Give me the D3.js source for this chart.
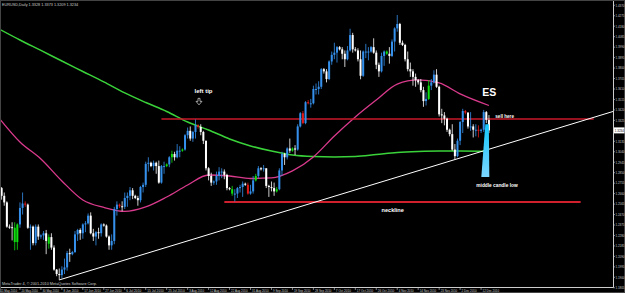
<!DOCTYPE html>
<html>
<head>
<meta charset="utf-8">
<script src="https://cdn.jsdelivr.net/npm/d3@7"></script>
<style>
  html, body { margin: 0; padding: 0; background: #000; overflow: hidden; }
  text { font-family: "Liberation Sans", Arial, sans-serif; }
</style>
</head>
<body>
<svg id="chart" width="625" height="293"></svg>
<script>
// EURUSD daily bars, 11 May 2010 .. 15 Dec 2010 (broker has Sunday bars)
const open = [
  1.2790,1.2710,1.2640,1.2580,1.2360,1.2355,1.2350,1.2220,
  1.2380,1.2530,1.2570,1.2560,1.2350,1.2360,1.2210,1.2360,
  1.2270,1.2280,1.2300,1.2205,1.2265,1.2170,1.1970,1.1930,
  1.1920,1.1970,1.1990,1.2120,1.2110,1.2130,1.2290,1.2330,
  1.2300,1.2380,1.2390,1.2460,1.2300,1.2270,1.2310,1.2300,
  1.2380,1.2370,1.2270,1.2190,1.2230,1.2520,1.2560,1.2545,
  1.2540,1.2620,1.2640,1.2690,1.2640,1.2620,1.2600,1.2720,
  1.2740,1.2930,1.2940,1.2910,1.2940,1.2910,1.2760,1.2910,
  1.2910,1.2925,1.2990,1.3020,1.2990,1.3050,1.3050,1.3060,
  1.3190,1.3230,1.3160,1.3220,1.3280,1.3265,1.3220,1.3140,
  1.2890,1.2820,1.2760,1.2770,1.2820,1.2860,1.2860,1.2830,
  1.2710,1.2700,1.2660,1.2660,1.2710,1.2720,1.2750,1.2740,
  1.2660,1.2680,1.2780,1.2820,1.2890,1.2885,1.2890,1.2730,
  1.2720,1.2710,1.2680,1.2700,1.2870,1.3020,1.2990,1.3070,
  1.3050,1.3070,1.3060,1.3270,1.3390,1.3300,1.3490,1.3480,
  1.3480,1.3610,1.3610,1.3630,1.3790,1.3770,1.3700,1.3860,
  1.3920,1.3940,1.3990,1.3970,1.3930,1.3880,1.3960,1.4100,
  1.3970,1.3960,1.3880,1.3730,1.3950,1.3950,1.3950,1.3990,
  1.3940,1.3830,1.3770,1.3910,1.3950,1.3930,1.3910,1.4040,
  1.4160,1.4200,1.4030,1.4010,1.3880,1.3790,1.3770,1.3720,
  1.3690,1.3670,1.3600,1.3500,1.3520,1.3640,1.3670,1.3740,
  1.3630,1.3380,1.3370,1.3340,1.3240,1.3200,1.3060,1.3000,
  1.3140,1.3310,1.3410,1.3395,1.3270,1.3270,1.3240,1.3240,
  1.3230,1.3240,1.3400,1.3328
];
const high = [
  1.2810,1.2720,1.2670,1.2590,1.2380,1.2400,1.2400,1.2390,
  1.2580,1.2670,1.2590,1.2570,1.2380,1.2370,1.2380,1.2380,
  1.2290,1.2320,1.2330,1.2290,1.2300,1.2190,1.1975,1.1980,
  1.2000,1.2070,1.2140,1.2160,1.2140,1.2320,1.2340,1.2345,
  1.2390,1.2410,1.2480,1.2490,1.2340,1.2320,1.2350,1.2390,
  1.2390,1.2380,1.2280,1.2290,1.2540,1.2590,1.2570,1.2590,
  1.2670,1.2670,1.2720,1.2710,1.2650,1.2640,1.2730,1.2760,
  1.2950,1.2990,1.2950,1.2960,1.2950,1.2960,1.2920,1.2950,
  1.2935,1.3000,1.3050,1.3040,1.3110,1.3090,1.3070,1.3200,
  1.3260,1.3270,1.3230,1.3333,1.3290,1.3290,1.3230,1.3140,
  1.2900,1.2850,1.2780,1.2860,1.2900,1.2890,1.2880,1.2840,
  1.2720,1.2730,1.2700,1.2720,1.2740,1.2770,1.2760,1.2760,
  1.2740,1.2820,1.2840,1.2910,1.2900,1.2920,1.2890,1.2740,
  1.2770,1.2760,1.2720,1.2890,1.3040,1.3030,1.3080,1.3160,
  1.3080,1.3100,1.3290,1.3400,1.3410,1.3500,1.3510,1.3520,
  1.3640,1.3660,1.3680,1.3800,1.3800,1.3790,1.3870,1.3950,
  1.4030,1.4000,1.4000,1.3990,1.3960,1.4000,1.4157,1.4120,
  1.3990,1.3980,1.3960,1.3960,1.4020,1.3990,1.4000,1.4070,
  1.3960,1.3850,1.3940,1.3960,1.3960,1.3990,1.4060,1.4170,
  1.4282,1.4210,1.4050,1.4020,1.3950,1.3850,1.3790,1.3750,
  1.3700,1.3700,1.3630,1.3580,1.3690,1.3700,1.3780,1.3790,
  1.3640,1.3430,1.3400,1.3350,1.3250,1.3290,1.3110,1.3160,
  1.3320,1.3430,1.3420,1.3400,1.3400,1.3290,1.3290,1.3280,
  1.3250,1.3420,1.3410,1.3373
];
const low = [
  1.2620,1.2605,1.2550,1.2350,1.2340,1.2235,1.2145,1.2150,
  1.2350,1.2470,1.2540,1.2340,1.2150,1.2190,1.2190,1.2240,
  1.2250,1.2240,1.2110,1.2160,1.2150,1.1960,1.1910,1.1876,
  1.1890,1.1930,1.1960,1.2040,1.2100,1.2120,1.2230,1.2240,
  1.2250,1.2310,1.2380,1.2290,1.2230,1.2190,1.2250,1.2270,
  1.2360,1.2260,1.2150,1.2150,1.2200,1.2460,1.2530,1.2500,
  1.2520,1.2540,1.2600,1.2610,1.2610,1.2550,1.2580,1.2670,
  1.2720,1.2860,1.2900,1.2870,1.2840,1.2750,1.2750,1.2840,
  1.2900,1.2900,1.2940,1.2960,1.2980,1.2990,1.3040,1.3050,
  1.3160,1.3140,1.3130,1.3160,1.3250,1.3190,1.3110,1.2870,
  1.2780,1.2730,1.2740,1.2740,1.2780,1.2800,1.2790,1.2690,
  1.2690,1.2640,1.2588,1.2620,1.2670,1.2630,1.2730,1.2650,
  1.2650,1.2660,1.2770,1.2800,1.2870,1.2860,1.2710,1.2630,
  1.2680,1.2640,1.2670,1.2690,1.2820,1.2920,1.2970,1.3030,
  1.3040,1.3010,1.3050,1.3260,1.3290,1.3290,1.3470,1.3440,
  1.3470,1.3560,1.3560,1.3610,1.3750,1.3670,1.3690,1.3830,
  1.3880,1.3850,1.3960,1.3880,1.3810,1.3870,1.3950,1.3940,
  1.3950,1.3860,1.3698,1.3720,1.3890,1.3870,1.3940,1.3930,
  1.3790,1.3720,1.3760,1.3820,1.3920,1.3840,1.3900,1.3950,
  1.4130,1.4010,1.4000,1.3860,1.3770,1.3720,1.3640,1.3630,
  1.3650,1.3580,1.3448,1.3460,1.3510,1.3600,1.3660,1.3620,
  1.3360,1.3300,1.3280,1.3220,1.3180,1.3050,1.2969,1.2990,
  1.3100,1.3210,1.3380,1.3250,1.3230,1.3170,1.3180,1.3170,
  1.3210,1.3220,1.3300,1.3209
];
const close = [
  1.2710,1.2640,1.2580,1.2360,1.2355,1.2350,1.2220,1.2380,
  1.2530,1.2570,1.2560,1.2350,1.2360,1.2210,1.2360,1.2270,
  1.2280,1.2300,1.2230,1.2265,1.2170,1.1970,1.1930,1.1920,
  1.1970,1.1990,1.2120,1.2110,1.2130,1.2290,1.2330,1.2300,
  1.2380,1.2390,1.2460,1.2300,1.2270,1.2310,1.2300,1.2380,
  1.2370,1.2270,1.2190,1.2230,1.2520,1.2560,1.2545,1.2540,
  1.2620,1.2640,1.2690,1.2640,1.2620,1.2600,1.2720,1.2740,
  1.2930,1.2940,1.2910,1.2940,1.2910,1.2760,1.2910,1.2910,
  1.2925,1.2990,1.3020,1.2990,1.3050,1.3050,1.3060,1.3190,
  1.3230,1.3160,1.3220,1.3280,1.3265,1.3220,1.3140,1.2890,
  1.2820,1.2760,1.2770,1.2820,1.2860,1.2860,1.2830,1.2710,
  1.2700,1.2660,1.2660,1.2710,1.2720,1.2750,1.2740,1.2660,
  1.2680,1.2780,1.2820,1.2890,1.2885,1.2890,1.2730,1.2720,
  1.2710,1.2680,1.2700,1.2870,1.3020,1.2990,1.3070,1.3050,
  1.3070,1.3060,1.3270,1.3390,1.3300,1.3490,1.3480,1.3480,
  1.3610,1.3610,1.3630,1.3790,1.3770,1.3700,1.3860,1.3920,
  1.3940,1.3990,1.3970,1.3930,1.3880,1.3960,1.4100,1.3970,
  1.3960,1.3880,1.3730,1.3950,1.3950,1.3950,1.3990,1.3940,
  1.3830,1.3770,1.3910,1.3950,1.3930,1.3910,1.4040,1.4160,
  1.4200,1.4030,1.4010,1.3880,1.3790,1.3770,1.3720,1.3690,
  1.3670,1.3600,1.3500,1.3520,1.3640,1.3670,1.3740,1.3630,
  1.3380,1.3370,1.3340,1.3240,1.3200,1.3060,1.3000,1.3140,
  1.3310,1.3410,1.3395,1.3270,1.3270,1.3240,1.3240,1.3230,
  1.3240,1.3400,1.3330,1.3234
];

// bars painted by the pattern indicator
const greenBars = [6, 7, 19, 64, 66, 70, 89, 98, 106, 112, 148, 164];
const redBars = [10, 46, 76, 95, 116, 118, 178, 183];

// moving averages (bar index, price)
const maIdx = [0, 8, 16, 24, 32, 40, 48, 56, 64, 72, 80, 88, 96, 104, 112, 120, 128, 136, 144, 152, 160, 168, 176, 187];
const maSlow = [1.4155, 1.4055, 1.3960, 1.3864, 1.3769, 1.3674, 1.3574, 1.3487, 1.3406, 1.3310, 1.3238, 1.3156,
                1.3093, 1.3047, 1.3011, 1.2997, 1.2993, 1.2997, 1.3015, 1.3034, 1.3043, 1.3047, 1.3047, 1.3043];
const maFast = [1.3347, 1.3129, 1.2974, 1.2775, 1.2602, 1.2534, 1.2498, 1.2539, 1.2629, 1.2738, 1.2829, 1.2820,
                1.2797, 1.2802, 1.2866, 1.2993, 1.3183, 1.3356, 1.3510, 1.3655, 1.3692, 1.3665, 1.3565, 1.3460];

// time axis labels (every 8th bar)
const timeTickIdx = [0, 8, 16, 24, 32, 40, 48, 56, 64, 72, 80, 88, 96, 104, 112, 120, 128, 136, 144, 152, 160, 168, 176, 184];
const timeTickLabels = ["11 May 2010", "20 May 2010", "30 May 2010", "8 Jun 2010", "17 Jun 2010", "27 Jun 2010",
  "6 Jul 2010", "15 Jul 2010", "25 Jul 2010", "3 Aug 2010", "12 Aug 2010", "22 Aug 2010", "31 Aug 2010",
  "9 Sep 2010", "19 Sep 2010", "28 Sep 2010", "7 Oct 2010", "17 Oct 2010", "26 Oct 2010", "4 Nov 2010",
  "14 Nov 2010", "23 Nov 2010", "2 Dec 2010", "12 Dec 2010"];

// price axis labels
const priceTicks = [1.4370, 1.4275, 1.4180, 1.4085, 1.3990, 1.3895, 1.3800, 1.3705, 1.3610, 1.3515, 1.3420,
  1.3325, 1.3230, 1.3135, 1.3040, 1.2945, 1.2850, 1.2755, 1.2660, 1.2565, 1.2470, 1.2375, 1.2280, 1.2185,
  1.2090, 1.1995, 1.1900, 1.1805];

// drawn objects
const leftTipLevel = 1.3333, leftTipFrom = 62, leftTipTo = 227;
const necklineLevel = 1.2588, necklineFrom = 86, necklineTo = 222;
const trendA = { i: 23, p: 1.1876 }, trendB = { i: 174, p: 1.2969 };
const esBar = 186;
const headerText = "EURUSD,Daily  1.3328 1.3373 1.3209 1.3234";

// layout
const W = 625, H = 293, plotR = 613, plotB = 287;
const svg = d3.select("#chart");

const x = d3.scaleLinear().domain([0, 234]).range([-1, -1 + 234 * 2.62]);
const y = d3.scaleLinear().domain([1.1812, 1.4418]).range([plotB, 0]);

svg.append("rect").attr("width", W).attr("height", H).attr("fill", "#000");

const bars = d3.range(open.length);
const plot = svg.append("g");

// Moving averages go behind the candles
const maLine = d3.line().x((d, i) => x(maIdx[i])).y(d => y(d)).curve(d3.curveMonotoneX);
plot.append("path").datum(maSlow).attr("d", maLine)
  .attr("fill", "none").attr("stroke", "#3ad23a").attr("stroke-width", 1.5);
plot.append("path").datum(maFast).attr("d", maLine)
  .attr("fill", "none").attr("stroke", "#d93a8c").attr("stroke-width", 1.3);

// Horizontal levels
plot.append("line")
  .attr("x1", x(leftTipFrom)).attr("x2", x(leftTipTo))
  .attr("y1", Math.round(y(leftTipLevel))).attr("y2", Math.round(y(leftTipLevel)))
  .attr("stroke", "#c8182a").attr("stroke-width", 1.6);
plot.append("line")
  .attr("x1", x(necklineFrom)).attr("x2", x(necklineTo))
  .attr("y1", Math.round(y(necklineLevel))).attr("y2", Math.round(y(necklineLevel)))
  .attr("stroke", "#d0202e").attr("stroke-width", 2);

// Candles
function candleColor(i) {
  if (greenBars.includes(i)) return "#10e010";
  if (redBars.includes(i)) return "#e01818";
  return close[i] >= open[i] ? "#3590ec" : "#ffffff";
}
const candles = plot.selectAll("g.bar").data(bars).enter().append("g").attr("class", "bar");
candles.append("line")
  .attr("x1", i => x(i)).attr("x2", i => x(i))
  .attr("y1", i => y(high[i])).attr("y2", i => y(low[i]))
  .attr("stroke", candleColor).attr("stroke-width", 0.8);
candles.append("rect")
  .attr("x", i => x(i) - 1)
  .attr("width", 2)
  .attr("y", i => y(Math.max(open[i], close[i])))
  .attr("height", i => Math.max(1, Math.abs(y(open[i]) - y(close[i]))))
  .attr("fill", candleColor);

// Trend line through the two lows, extended to the price scale
const slope = (trendB.p - trendA.p) / (trendB.i - trendA.i);
const trendEnd = x.invert(plotR);
plot.append("line")
  .attr("x1", x(trendA.i)).attr("y1", y(trendA.p))
  .attr("x2", plotR).attr("y2", y(trendA.p + slope * (trendEnd - trendA.i)))
  .attr("stroke", "#ffffff").attr("stroke-width", 1);

// Cyan arrow under the ES bar
const defs = svg.append("defs");
const grad = defs.append("linearGradient").attr("id", "cyanGrad")
  .attr("x1", 0).attr("y1", 0).attr("x2", 0).attr("y2", 1);
grad.append("stop").attr("offset", "0%").attr("stop-color", "#12c8ff");
grad.append("stop").attr("offset", "100%").attr("stop-color", "#7cd6ff");
const ex = x(esBar);
const topY = y(1.3290), botY = y(1.2810);
plot.append("path")
  .attr("d", `M${ex - 1},${topY} L${ex + 2.5},${topY} L${ex + 3},${botY} L${ex - 5},${botY} Z`)
  .attr("fill", "url(#cyanGrad)");

// Annotations
const lx = x(75);
plot.append("text").attr("x", lx + 8).attr("y", y(1.3570))
  .attr("text-anchor", "middle").attr("font-size", 6).attr("font-weight", "bold")
  .attr("fill", "#fff").text("left tip");
plot.append("path")
  .attr("d", `M${lx + 2.5},${y(1.3525)} h2 v3 h2 l-3,3.5 l-3,-3.5 h2 Z`)
  .attr("fill", "none").attr("stroke", "#ddd").attr("stroke-width", 0.7);
plot.append("text").attr("x", ex + 3).attr("y", y(1.3545))
  .attr("text-anchor", "middle").attr("font-size", 10.5).attr("font-weight", "bold")
  .attr("fill", "#fff").text("ES");
plot.append("text").attr("x", ex + 9).attr("y", y(1.3333) - 1.5)
  .attr("font-size", 4.6).attr("font-weight", "bold")
  .attr("fill", "#fff").text("sell here");
plot.append("text").attr("x", ex - 10).attr("y", y(1.2720))
  .attr("font-size", 4.8).attr("font-weight", "bold")
  .attr("fill", "#fff").text("middle candle low");
plot.append("text").attr("x", x(146)).attr("y", y(1.2588) + 10)
  .attr("font-size", 5.6).attr("font-weight", "bold")
  .attr("fill", "#fff").text("neckline");

// Header and copyright
svg.append("text").attr("x", 2).attr("y", 5.5).attr("font-size", 3.8)
  .attr("fill", "#ccc").text(headerText);
svg.append("text").attr("x", 2).attr("y", 284.5).attr("font-size", 3.8)
  .attr("fill", "#ccc").text("MetaTrader 4, \u00a9 2001-2010 MetaQuotes Software Corp.");

// Axes frame
svg.append("line").attr("x1", plotR + 0.5).attr("x2", plotR + 0.5).attr("y1", 0).attr("y2", plotB + 0.5)
  .attr("stroke", "#ccc").attr("stroke-width", 1);
svg.append("line").attr("x1", 0).attr("x2", plotR + 0.5).attr("y1", plotB + 0.5).attr("y2", plotB + 0.5)
  .attr("stroke", "#ccc").attr("stroke-width", 1);
svg.append("rect").attr("x", 0.5).attr("y", 0.5).attr("width", W - 1).attr("height", H - 1)
  .attr("fill", "none").attr("stroke", "#444");

// Price scale
const lastClose = close[close.length - 1];
const pt = svg.append("g");
priceTicks.filter(p => Math.abs(y(p) - y(lastClose)) > 5).forEach(p => {
  pt.append("line").attr("x1", plotR).attr("x2", plotR + 2).attr("y1", y(p)).attr("y2", y(p))
    .attr("stroke", "#ccc").attr("stroke-width", 0.6);
  pt.append("text").attr("x", plotR + 2.5).attr("y", y(p) + 1.3)
    .attr("font-size", 3.6).attr("fill", "#ccc")
    .attr("textLength", 9).attr("lengthAdjust", "spacingAndGlyphs")
    .text(p.toFixed(4));
});
pt.append("rect").attr("x", plotR + 1).attr("y", y(lastClose) - 3).attr("width", 10.5).attr("height", 6)
  .attr("fill", "#fff");
pt.append("text").attr("x", plotR + 1.8).attr("y", y(lastClose) + 1.4)
  .attr("font-size", 3.6).attr("fill", "#000")
  .attr("textLength", 9).attr("lengthAdjust", "spacingAndGlyphs")
  .text(lastClose.toFixed(4));

// Time scale
const tt = svg.append("g");
timeTickIdx.forEach((b, k) => {
  tt.append("line").attr("x1", x(b)).attr("x2", x(b)).attr("y1", plotB).attr("y2", plotB + 3)
    .attr("stroke", "#ccc").attr("stroke-width", 0.6);
  tt.append("text").attr("x", x(b) + 1.5).attr("y", 292).attr("font-size", 3.6)
    .attr("fill", "#ccc")
    .attr("textLength", timeTickLabels[k].length * 1.5).attr("lengthAdjust", "spacingAndGlyphs")
    .text(timeTickLabels[k]);
});
</script>
</body>
</html>
